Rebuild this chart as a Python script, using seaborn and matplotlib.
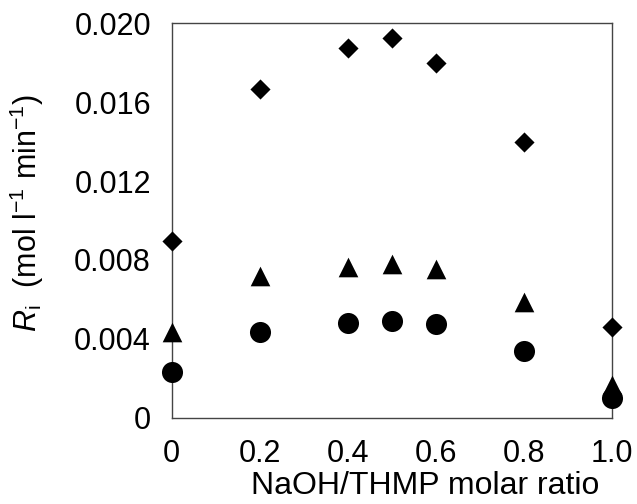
import pandas as pd
import matplotlib
matplotlib.use("Agg")
import matplotlib.pyplot as plt
import seaborn as sns

# Dados
razao = [0.0, 0.2, 0.4, 0.5, 0.6, 0.8, 1.0]
serie_losango = [0.00894, 0.01665, 0.01877, 0.01924, 0.01800, 0.01396, 0.00458]
serie_triangulo = [0.00433, 0.00719, 0.00766, 0.00779, 0.00752, 0.00585, 0.00166]
serie_circulo = [0.00233, 0.00436, 0.00482, 0.00490, 0.00475, 0.00338, 0.00098]

sns.set_theme(style="white")
plt.rcParams['font.family'] = ['Liberation Sans', 'DejaVu Sans']
plt.rcParams['mathtext.fontset'] = 'custom'
plt.rcParams['mathtext.rm'] = 'Liberation Sans'
plt.rcParams['mathtext.it'] = 'Liberation Sans:italic'
plt.rcParams['text.color'] = 'black'
plt.rcParams['axes.labelcolor'] = 'black'

df = pd.DataFrame({
    'razao': razao * 3,
    'Ri': serie_losango + serie_triangulo + serie_circulo,
    'serie': ['losango'] * 7 + ['triangulo'] * 7 + ['circulo'] * 7,
})

fig = plt.figure(figsize=(6.37, 5.04), dpi=100)
ax = fig.add_axes([0.2696, 0.1712, 0.6917, 0.7825])

tamanhos = {'losango': 105, 'triangulo': 200, 'circulo': 230}
marcadores = {'losango': 'D', 'triangulo': '^', 'circulo': 'o'}
for nome in ['losango', 'triangulo', 'circulo']:
    sub = df[df['serie'] == nome]
    sns.scatterplot(data=sub, x='razao', y='Ri', marker=marcadores[nome],
                    s=tamanhos[nome], color='black', edgecolor='black',
                    linewidth=0, ax=ax, clip_on=False, zorder=3)

ax.set_xlim(0, 1.0)
ax.set_ylim(0, 0.020)
ax.set_xticks([0, 0.2, 0.4, 0.6, 0.8, 1.0])
ax.set_xticklabels(['0', '0.2', '0.4', '0.6', '0.8', '1.0'])
ax.set_yticks([0, 0.004, 0.008, 0.012, 0.016, 0.020])
ax.set_yticklabels(['0', '0.004', '0.008', '0.012', '0.016', '0.020'])
ax.tick_params(direction='in', length=4, width=0.8, colors='black',
               labelsize=22)
ax.tick_params(axis='x', pad=15)
ax.tick_params(axis='y', pad=15)

for lado in ax.spines.values():
    lado.set_color('#444444')
    lado.set_linewidth(1.0)

ax.set_xlabel('NaOH/THMP molar ratio', fontsize=23)
ax.xaxis.set_label_coords(0.575, -0.135)
ax.set_ylabel(r'$R_\mathrm{i}$  (mol l$^{-1}$ min$^{-1}$)', fontsize=22)
ax.yaxis.set_label_coords(-0.285, 0.52)

plt.savefig('out.png', dpi=100)
